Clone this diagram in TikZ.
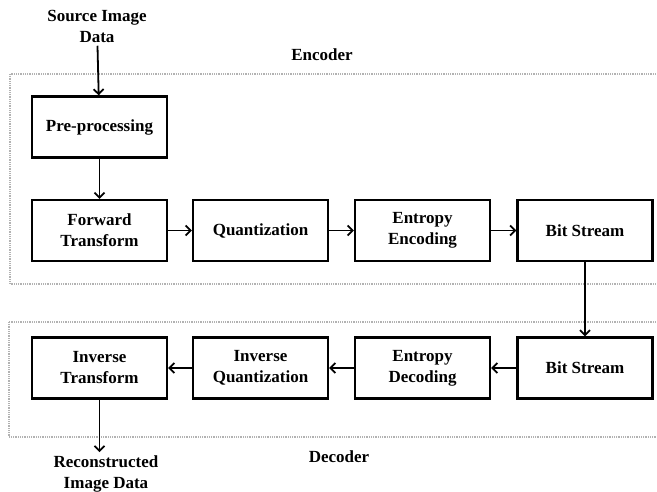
\documentclass[tikz,border=0pt]{standalone}
\usepackage{fontspec}
\setmainfont{Liberation Serif}
\usetikzlibrary{arrows.meta}

\begin{document}
\begin{tikzpicture}[x=1pt, y=-1pt, font=\fontsize{17}{21}\selectfont\bfseries,
  >={Straight Barb[length=5pt, width=10pt]},
  block/.style={draw, line width=2.3pt, minimum width=135pt, minimum height=61pt, align=center, inner sep=2pt},
  flow/.style={->, line width=1.8pt},
  stage/.style={draw=gray!60, line width=1.2pt, dash pattern=on 1pt off 0.8pt}]
\useasboundingbox (0,0) rectangle (657,491);

% Encoder
\draw[stage] (10,74) rectangle (672,284);
\node (enc) at (322,55) {Encoder};
\node[align=center] (src) at (97,26) {Source Image\\Data};
\node[block] (pre) at (99.5,127) {Pre-processing};
\node[block] (fwd) at (99.5,230.5) {Forward\\Transform};
\node[block] (qnt) at (260.5,230.5) {Quantization};
\node[block] (ent) at (422.5,230.5) {Entropy\\Encoding};
\node[block] (bse) at (585,230.5) {Bit Stream};

% Decoder
\draw[stage] (9,322) rectangle (672,437);
\node (dec) at (339,457) {Decoder};
\node[block] (itr) at (99.5,368) {Inverse\\Transform};
\node[block] (iqn) at (260.5,368) {Inverse\\Quantization};
\node[block] (edc) at (422.5,368) {Entropy\\Decoding};
\node[block] (bsd) at (585,368) {Bit Stream};
\node[align=center] (rec) at (106,474) {Reconstructed\\Image Data};

% connectors
\draw[flow] (src) -- (pre);
\draw[flow] (pre) -- (fwd);
\draw[flow] (fwd) -- (qnt);
\draw[flow] (qnt) -- (ent);
\draw[flow] (ent) -- (bse);
\draw[flow] (bse) -- (bsd);
\draw[flow] (bsd) -- (edc);
\draw[flow] (edc) -- (iqn);
\draw[flow] (iqn) -- (itr);
\draw[flow] (itr.south) -- (itr.south |- rec.north);
\end{tikzpicture}
\end{document}
